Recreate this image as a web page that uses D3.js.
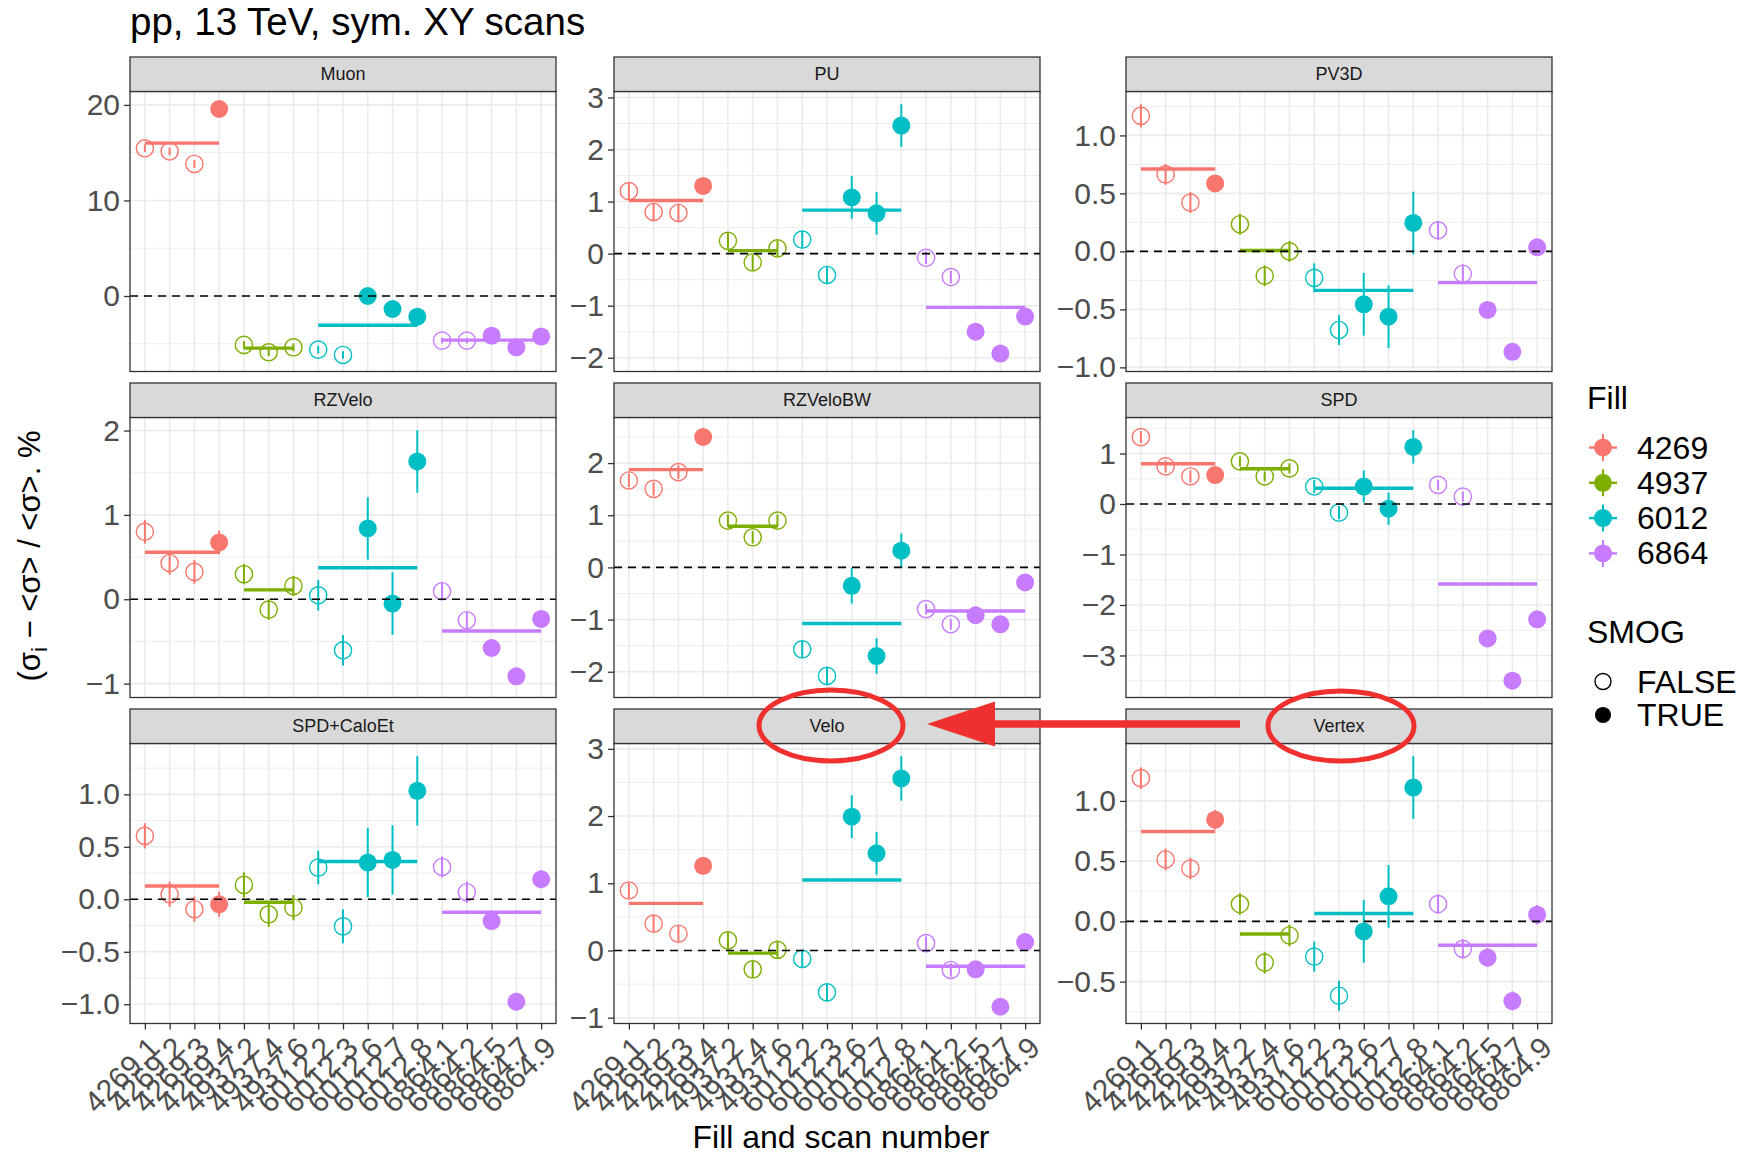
<!DOCTYPE html>
<html>
<head>
<meta charset="utf-8">
<script src="https://cdn.jsdelivr.net/npm/d3@7"></script>
<style>
  body { margin: 0; background: #fff; }
  svg { display: block; }
  text { font-family: "Liberation Sans", Arial, Helvetica, sans-serif; }
</style>
</head>
<body>
<svg id="chart" width="1748" height="1157"></svg>
<script>
// ---- data -------------------------------------------------------------
const scans = ["4269.1","4269.2","4269.3","4269.4","4937.2","4937.4","4937.6",
               "6012.2","6012.3","6012.6","6012.7","6012.8",
               "6864.1","6864.2","6864.5","6864.7","6864.9"];
const fills = ["4269","4937","6012","6864"];
const fillColors = ["#F8766D","#7CAE00","#00BFC4","#C77CFF"];
const smog = [false,false,false,true, false,false,false, false,false,true,true,true,
              false,false,true,true,true];

const panelNames = ["Muon","PU","PV3D","RZVelo","RZVeloBW","SPD","SPD+CaloEt","Velo","Vertex"];

// relative deviation (sigma_i - <sigma>)/<sigma>, % and its uncertainty
const valMuon = [15.46,15.14,13.82,19.57, -5.12,-5.89,-5.37, -5.61,-6.17,0.0,-1.36,-2.16, -4.67,-4.67,-4.15,-5.37,-4.25];
const errMuon = [0.4,0.4,0.4,0.5, 0.4,0.4,0.4, 0.4,0.4,0.6,0.6,0.6, 0.3,0.3,0.3,0.3,0.3];

const valPU = [1.20,0.80,0.78,1.30, 0.245,-0.17,0.10, 0.27,-0.41,1.08,0.775,2.46, -0.08,-0.45,-1.50,-1.92,-1.21];
const errPU = [0.17,0.17,0.17,0.15, 0.15,0.15,0.15, 0.17,0.17,0.41,0.41,0.41, 0.12,0.12,0.1,0.1,0.1];

const valPV3D = [1.169,0.664,0.421,0.586, 0.234,-0.21,0.0, -0.228,-0.678,-0.456,-0.563,0.245, 0.182,-0.193,-0.505,-0.866,0.035];
const errPV3D = [0.1,0.09,0.09,0.07, 0.09,0.09,0.09, 0.125,0.13,0.27,0.27,0.27, 0.08,0.08,0.06,0.06,0.06];

const valRZVelo = [0.80,0.43,0.325,0.673, 0.297,-0.123,0.158, 0.047,-0.605,0.839,-0.051,1.634, 0.095,-0.249,-0.578,-0.914,-0.233];
const errRZVelo = [0.14,0.14,0.14,0.14, 0.12,0.12,0.12, 0.18,0.18,0.37,0.37,0.37, 0.1,0.1,0.1,0.1,0.1];

const valRZVeloBW = [1.667,1.506,1.827,2.50, 0.897,0.577,0.897, -1.57,-2.08,-0.353,-1.70,0.32, -0.80,-1.09,-0.917,-1.09,-0.288];
const errRZVeloBW = [0.13,0.13,0.13,0.13, 0.12,0.12,0.12, 0.17,0.17,0.34,0.34,0.33, 0.1,0.1,0.08,0.08,0.08];

const valSPD = [1.324,0.745,0.546,0.572, 0.845,0.546,0.705, 0.346,-0.17,0.346,-0.093,1.131, 0.379,0.146,-2.662,-3.50,-2.283];
const errSPD = [0.12,0.12,0.12,0.1, 0.1,0.1,0.1, 0.13,0.13,0.32,0.32,0.33, 0.1,0.1,0.08,0.08,0.08];

const valSPDCalo = [0.604,0.048,-0.095,-0.048, 0.137,-0.143,-0.08, 0.302,-0.258,0.35,0.375,1.033, 0.308,0.067,-0.207,-0.976,0.191];
const errSPDCalo = [0.12,0.12,0.12,0.12, 0.12,0.12,0.12, 0.16,0.16,0.33,0.33,0.33, 0.1,0.1,0.086,0.086,0.086];

const valVelo = [0.892,0.40,0.25,1.26, 0.15,-0.28,0.01, -0.125,-0.623,1.99,1.445,2.56, 0.11,-0.29,-0.28,-0.837,0.125];
const errVelo = [0.12,0.12,0.12,0.1, 0.12,0.12,0.12, 0.13,0.13,0.32,0.32,0.33, 0.1,0.1,0.06,0.06,0.06];

const valVertex = [1.189,0.514,0.439,0.844, 0.144,-0.342,-0.117, -0.292,-0.617,-0.083,0.208,1.111, 0.144,-0.228,-0.30,-0.661,0.056];
const errVertex = [0.09,0.09,0.09,0.08, 0.09,0.09,0.09, 0.125,0.125,0.26,0.26,0.26, 0.08,0.08,0.08,0.08,0.08];

// y-axis breaks per detector
const ticksMuon = [0,10,20];
const ticksPU = [-2,-1,0,1,2,3];
const ticksPV3D = [-1,-0.5,0,0.5,1];
const ticksRZVelo = [-1,0,1,2];
const ticksRZVeloBW = [-2,-1,0,1,2];
const ticksSPD = [-3,-2,-1,0,1];
const ticksSPDCalo = [-1,-0.5,0,0.5,1];
const ticksVelo = [-1,0,1,2,3];
const ticksVertex = [-0.5,0,0.5,1];

const panelVals = [valMuon,valPU,valPV3D,valRZVelo,valRZVeloBW,valSPD,valSPDCalo,valVelo,valVertex];
const panelErrs = [errMuon,errPU,errPV3D,errRZVelo,errRZVeloBW,errSPD,errSPDCalo,errVelo,errVertex];
const panelTicks = [ticksMuon,ticksPU,ticksPV3D,ticksRZVelo,ticksRZVeloBW,ticksSPD,ticksSPDCalo,ticksVelo,ticksVertex];

// ---- layout -----------------------------------------------------------
const colX = [130, 614, 1126];
const rowY = [57, 383, 709];
const panelW = 426, stripH = 34.5, plotH = 280;
const tickFont = 30;
const labelFont = 32;

const svg = d3.select("#chart");
const fillOf = s => s.split(".")[0];
const color = d3.scaleOrdinal().domain(fills).range(fillColors);

const x = d3.scalePoint().domain(scans).range([0, panelW]).padding(0.6);

panelNames.forEach((name, i) => {
  const col = i % 3, row = Math.floor(i / 3);
  const vals = panelVals[i], errs = panelErrs[i], ticks = panelTicks[i];
  const rows = scans.map((s, k) => ({scan: s, fill: fillOf(s), v: vals[k], e: errs[k], smog: smog[k]}));

  // free y scale with 5% expansion of the data + error range
  const lo = d3.min(rows, d => d.v - d.e), hi = d3.max(rows, d => d.v + d.e);
  const pad = (hi - lo) * 0.05;
  const y = d3.scaleLinear().domain([lo - pad, hi + pad]).range([plotH, 0]);

  const g = svg.append("g")
    .attr("transform", `translate(${colX[col]},${rowY[row] + stripH})`);

  g.append("rect").attr("width", panelW).attr("height", plotH).attr("fill", "#fff");

  // grid
  const step = ticks[1] - ticks[0];
  const minor = d3.range(ticks[0] - step / 2, ticks[ticks.length - 1] + step, step)
    .filter(v => v > y.domain()[0] && v < y.domain()[1]);
  g.append("g").selectAll("line").data(minor).join("line")
    .attr("x1", 0).attr("x2", panelW).attr("y1", d => y(d)).attr("y2", d => y(d))
    .attr("stroke", "#EBEBEB").attr("stroke-width", 0.9);
  g.append("g").selectAll("line").data(ticks).join("line")
    .attr("x1", 0).attr("x2", panelW).attr("y1", d => y(d)).attr("y2", d => y(d))
    .attr("stroke", "#EBEBEB").attr("stroke-width", 1.6);
  g.append("g").selectAll("line").data(scans).join("line")
    .attr("x1", d => x(d)).attr("x2", d => x(d)).attr("y1", 0).attr("y2", plotH)
    .attr("stroke", "#EBEBEB").attr("stroke-width", 1.6);

  // uncertainties
  g.append("g").selectAll("line").data(rows).join("line")
    .attr("x1", d => x(d.scan)).attr("x2", d => x(d.scan))
    .attr("y1", d => y(d.v - d.e)).attr("y2", d => y(d.v + d.e))
    .attr("stroke", d => color(d.fill)).attr("stroke-width", 2);

  // measurements: open = no SMOG, filled = SMOG
  g.append("g").selectAll("circle").data(rows).join("circle")
    .attr("cx", d => x(d.scan)).attr("cy", d => y(d.v)).attr("r", d => d.smog ? 9 : 8.6)
    .attr("fill", d => d.smog ? color(d.fill) : "none")
    .attr("stroke", d => d.smog ? "none" : color(d.fill))
    .attr("stroke-width", 1.4);

  // per-fill average
  const groups = d3.groups(rows, d => d.fill).map(([f, r]) => ({
    fill: f, x1: x(r[0].scan), x2: x(r[r.length - 1].scan), m: d3.mean(r, d => d.v)
  }));
  g.append("g").selectAll("line").data(groups).join("line")
    .attr("x1", d => d.x1).attr("x2", d => d.x2)
    .attr("y1", d => y(d.m)).attr("y2", d => y(d.m))
    .attr("stroke", d => color(d.fill)).attr("stroke-width", 3.4);

  // zero reference
  g.append("line").attr("x1", 0).attr("x2", panelW).attr("y1", y(0)).attr("y2", y(0))
    .attr("stroke", "#000").attr("stroke-width", 1.6).attr("stroke-dasharray", "8,6");

  // border
  g.append("rect").attr("width", panelW).attr("height", plotH)
    .attr("fill", "none").attr("stroke", "#333").attr("stroke-width", 1.3);

  // strip
  g.append("rect").attr("y", -stripH).attr("width", panelW).attr("height", stripH)
    .attr("fill", "#D9D9D9").attr("stroke", "#333").attr("stroke-width", 1.3);
  g.append("text").attr("x", panelW / 2).attr("y", -stripH / 2)
    .attr("text-anchor", "middle").attr("dominant-baseline", "central")
    .attr("font-size", 18).attr("fill", "#1A1A1A").text(name);

  // y axis
  const fmt = ticks.some(t => !Number.isInteger(t)) ? d3.format(".1f") : d3.format("d");
  const ya = g.append("g").call(d3.axisLeft(y).tickValues(ticks).tickSize(6).tickPadding(4).tickFormat(fmt));
  ya.select(".domain").remove();
  ya.selectAll(".tick line").attr("stroke", "#333").attr("stroke-width", 1.3);
  ya.selectAll(".tick text").attr("fill", "#4D4D4D").attr("font-size", tickFont)
    .attr("font-family", "'Liberation Sans', Arial, sans-serif");

  // x axis on the bottom row only
  if (row === 2) {
    const xa = g.append("g").attr("transform", `translate(0,${plotH})`)
      .call(d3.axisBottom(x).tickSize(6));
    xa.select(".domain").remove();
    xa.selectAll(".tick line").attr("stroke", "#333").attr("stroke-width", 1.3);
    xa.selectAll(".tick text")
      .attr("x", 0).attr("y", 0).attr("dy", null)
      .attr("transform", "translate(1,11) rotate(-45)")
      .attr("text-anchor", "end").attr("dominant-baseline", "hanging")
      .attr("fill", "#4D4D4D").attr("font-size", tickFont)
      .attr("font-family", "'Liberation Sans', Arial, sans-serif");
  }
});

// ---- titles -----------------------------------------------------------
svg.append("text").attr("x", 130).attr("y", 35).attr("font-size", 38.5).attr("fill", "#000")
  .text("pp, 13 TeV, sym. XY scans");

svg.append("text").attr("x", 841).attr("y", 1148).attr("text-anchor", "middle")
  .attr("font-size", labelFont).attr("fill", "#000").text("Fill and scan number");

const yt = svg.append("text").attr("transform", "translate(40,556) rotate(-90)")
  .attr("text-anchor", "middle").attr("font-size", 31).attr("fill", "#000");
yt.append("tspan").text("(σ");
yt.append("tspan").attr("font-size", 22).attr("dy", 7).text("i");
yt.append("tspan").attr("dy", -7).text(" − <σ> / <σ>. %");

// ---- legends ----------------------------------------------------------
const legendFont = 32;
const lg = svg.append("g");
lg.append("text").attr("x", 1587).attr("y", 409).attr("font-size", legendFont).attr("fill", "#000").text("Fill");
const keyY = d => 447.5 + 35.3 * d;
fills.forEach((f, k) => {
  const cy = keyY(k);
  lg.append("line").attr("x1", 1589).attr("x2", 1617).attr("y1", cy).attr("y2", cy)
    .attr("stroke", color(f)).attr("stroke-width", 2.4);
  lg.append("line").attr("x1", 1603).attr("x2", 1603).attr("y1", cy - 13.5).attr("y2", cy + 13.5)
    .attr("stroke", color(f)).attr("stroke-width", 2);
  lg.append("circle").attr("cx", 1603).attr("cy", cy).attr("r", 9).attr("fill", color(f));
  lg.append("text").attr("x", 1637).attr("y", cy).attr("dominant-baseline", "central")
    .attr("font-size", legendFont).attr("fill", "#000").text(f);
});

lg.append("text").attr("x", 1587).attr("y", 643).attr("font-size", legendFont).attr("fill", "#000").text("SMOG");
const smogKeys = ["FALSE", "TRUE"];
smogKeys.forEach((s, k) => {
  const cy = 681.5 + 33.5 * k;
  lg.append("circle").attr("cx", 1603).attr("cy", cy).attr("r", 8)
    .attr("fill", k ? "#000" : "none").attr("stroke", k ? "none" : "#000").attr("stroke-width", 1.4);
  lg.append("text").attr("x", 1637).attr("y", cy).attr("dominant-baseline", "central")
    .attr("font-size", legendFont).attr("fill", "#000").text(s);
});

// ---- highlight of the two strip labels -----------------------------------
const hl = svg.append("g").attr("fill", "none").attr("stroke", "#F0302F");
hl.append("ellipse").attr("cx", 831).attr("cy", 725.5).attr("rx", 72).attr("ry", 35.5).attr("stroke-width", 5);
hl.append("ellipse").attr("cx", 1341).attr("cy", 726).attr("rx", 73).attr("ry", 35).attr("stroke-width", 5);
hl.append("line").attr("x1", 1240).attr("x2", 990).attr("y1", 724).attr("y2", 724).attr("stroke-width", 7.5);
hl.append("path").attr("d", "M927,724 L995,701.5 L995,746.5 Z").attr("fill", "#F0302F").attr("stroke", "none");
</script>
</body>
</html>
